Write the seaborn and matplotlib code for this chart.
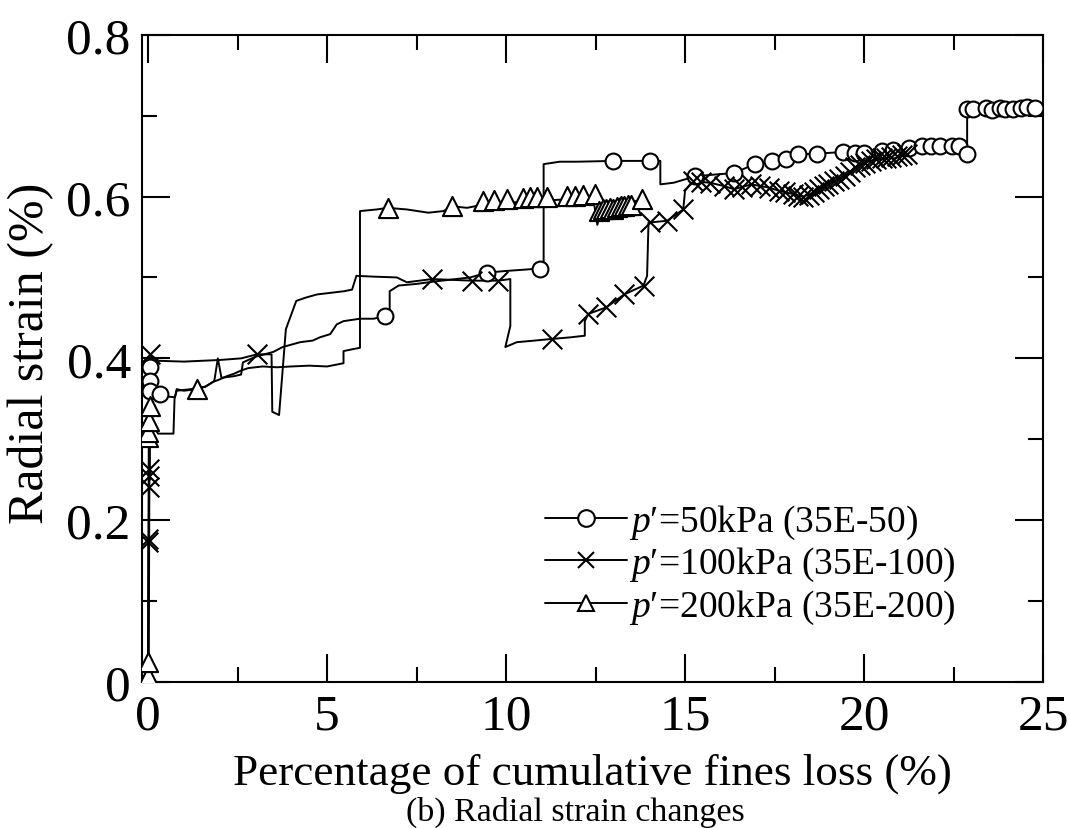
import numpy as np
import pandas as pd
import matplotlib
matplotlib.use("Agg")
import matplotlib.pyplot as plt
from matplotlib.lines import Line2D
from matplotlib.ticker import MultipleLocator, FixedLocator, FixedFormatter
import seaborn as sns

# ---------------- data ----------------
# p'=50kPa (35E-50) : circles
c_line_x = [0.0, 0.02, 0.04, 0.05, 0.08, 0.15, 0.29, 0.5, 0.75, 0.8, 1.2, 1.6, 1.85, 1.95, 2.05, 2.4, 2.6, 2.65,
            3.0, 3.5, 3.76, 4.25, 4.6, 4.8, 5.09, 5.27, 5.46, 5.92, 6.3, 6.62, 6.75, 6.75, 7.0, 7.5, 8.0, 9.0,
            9.47, 10.0, 10.94, 11.05, 11.05, 11.5, 12.0, 13.0, 14.03, 14.31, 14.31, 14.68, 15.29, 15.8, 16.37,
            16.95, 17.44, 17.82, 18.16, 18.69, 19.42, 19.75, 20.0, 20.5, 20.8, 21.25, 21.63, 21.88, 22.12, 22.46,
            22.65, 22.88, 22.88, 23.04, 23.42, 23.57, 23.81, 23.95, 24.15, 24.39, 24.54, 24.78]
c_line_y = [0.0, 0.30, 0.385, 0.39, 0.375, 0.36, 0.354, 0.353, 0.352, 0.36, 0.362, 0.365, 0.372, 0.40, 0.376,
            0.378, 0.38, 0.395, 0.402, 0.408, 0.414, 0.42, 0.422, 0.426, 0.43, 0.442, 0.446, 0.449, 0.449, 0.452,
            0.46, 0.483, 0.49, 0.492, 0.495, 0.50, 0.506, 0.508, 0.511, 0.511, 0.64, 0.643, 0.643, 0.644, 0.644,
            0.644, 0.615, 0.617, 0.625, 0.627, 0.629, 0.64, 0.644, 0.646, 0.652, 0.653, 0.655, 0.654, 0.654,
            0.656, 0.657, 0.66, 0.662, 0.662, 0.663, 0.663, 0.663, 0.652, 0.708, 0.708, 0.709, 0.707, 0.709,
            0.708, 0.708, 0.709, 0.71, 0.709]
c_mark_x = [0.06, 0.06, 0.06, 0.32, 6.62, 9.47, 10.94, 13.0, 14.03, 15.29, 16.37, 16.95, 17.44, 17.82, 18.16,
            18.69, 19.42, 19.75, 20.0, 20.5, 20.8, 21.25, 21.63, 21.88, 22.12, 22.46, 22.65, 22.88, 22.89, 23.04,
            23.42, 23.57, 23.81, 23.95, 24.15, 24.39, 24.54, 24.78]
c_mark_y = [0.389, 0.372, 0.36, 0.356, 0.452, 0.506, 0.511, 0.644, 0.644, 0.625, 0.629, 0.64, 0.644, 0.646,
            0.652, 0.653, 0.655, 0.654, 0.654, 0.656, 0.657, 0.66, 0.662, 0.662, 0.663, 0.663, 0.663, 0.652,
            0.708, 0.708, 0.709, 0.707, 0.709, 0.708, 0.708, 0.709, 0.71, 0.709]

# p'=100kPa (35E-100) : crosses
x_line_x = [0.0, 0.01, 0.02, 0.03, 0.03, 0.05, 0.05, 0.3, 1.0, 2.0, 2.6, 3.04, 3.45, 3.47, 3.66, 3.85, 4.14,
            4.4, 4.72, 5.48, 5.7, 5.82, 6.3, 6.95, 7.23, 7.93, 8.5, 9.05, 9.78, 10.12, 10.12, 9.98, 10.3, 10.8,
            11.28, 11.8, 12.2, 12.2, 12.3, 12.8, 13.3, 13.84, 13.94, 13.98, 14.03, 14.5, 14.95, 15.0, 15.21,
            15.7, 16.08, 16.37, 16.85, 17.34, 17.63, 18.02, 18.3, 18.6, 18.88, 19.17, 19.47, 19.75, 20.04,
            20.33, 20.62, 20.91, 21.2]
x_line_y = [0.0, 0.17, 0.18, 0.24, 0.26, 0.25, 0.405, 0.397, 0.396, 0.398, 0.40, 0.405, 0.405, 0.334, 0.33,
            0.436, 0.471, 0.475, 0.479, 0.483, 0.485, 0.502, 0.501, 0.50, 0.494, 0.498, 0.497, 0.496, 0.496,
            0.498, 0.44, 0.414, 0.42, 0.422, 0.424, 0.426, 0.428, 0.446, 0.455, 0.463, 0.479, 0.49, 0.502, 0.568,
            0.568, 0.57, 0.584, 0.607, 0.619, 0.617, 0.613, 0.609, 0.615, 0.611, 0.607, 0.603, 0.60, 0.605,
            0.613, 0.619, 0.625, 0.636, 0.642, 0.646, 0.648, 0.65, 0.652]
x_mark_x = [0.0, 0.01, 0.03, 0.03, 0.02, 0.05, 3.04, 7.93, 9.05, 9.78, 11.28, 12.3, 12.8, 13.3, 13.84, 14.03,
            14.5, 14.95, 15.21, 15.45, 15.7, 16.08, 16.37, 16.6, 16.85, 17.1, 17.34, 17.63, 17.8, 18.02, 18.15,
            18.3, 18.45, 18.6, 18.75, 18.88, 19.0, 19.17, 19.3, 19.47, 19.6, 19.75, 19.9, 20.04, 20.2, 20.33,
            20.5, 20.62, 20.75, 20.91, 21.05, 21.2]
x_mark_y = [0.173, 0.177, 0.241, 0.255, 0.263, 0.405, 0.405, 0.498, 0.496, 0.496, 0.424, 0.455, 0.463, 0.479,
            0.49, 0.568, 0.57, 0.584, 0.619, 0.618, 0.617, 0.613, 0.609, 0.612, 0.615, 0.613, 0.611, 0.607,
            0.605, 0.603, 0.601, 0.60, 0.602, 0.605, 0.609, 0.613, 0.616, 0.619, 0.622, 0.625, 0.63, 0.636,
            0.639, 0.642, 0.644, 0.646, 0.647, 0.648, 0.649, 0.65, 0.651, 0.652]

# p'=200kPa (35E-200) : triangles
t_line_x = [0.0, 0.0, 0.02, 0.04, 0.05, 0.10, 0.28, 0.71, 0.74, 0.80, 1.0, 1.36, 1.6, 1.82, 2.0, 2.2, 2.4, 2.6,
            2.8, 3.2, 3.6, 4.0, 4.5, 5.0, 5.46, 5.46, 5.79, 5.92, 5.92, 6.39, 6.69, 7.23, 7.83, 8.25, 8.49, 8.91,
            9.37, 9.65, 10.03, 10.5, 11.0, 11.5, 12.0, 12.45, 12.55, 12.7, 12.6, 12.9, 12.7, 13.2, 12.9, 13.5,
            13.2, 13.8, 14.0]
t_line_y = [0.0, 0.007, 0.025, 0.30, 0.34, 0.32, 0.307, 0.307, 0.35, 0.362, 0.360, 0.362, 0.365, 0.371, 0.374,
            0.378, 0.381, 0.385, 0.388, 0.39, 0.389, 0.39, 0.391, 0.390, 0.394, 0.409, 0.412, 0.413, 0.582,
            0.584, 0.586, 0.584, 0.580, 0.582, 0.588, 0.586, 0.59, 0.592, 0.592, 0.594, 0.595, 0.596, 0.597,
            0.594, 0.565, 0.59, 0.578, 0.595, 0.583, 0.598, 0.586, 0.598, 0.588, 0.597, 0.592]
t_mark_x = [0.0, 0.0, 0.0, 0.0, 0.02, 0.05, 1.36, 6.69, 8.49, 9.37, 9.65, 10.03, 10.48, 10.68, 10.87, 11.15,
            11.71, 11.93, 12.16, 12.49, 12.6, 12.7, 12.8, 12.9, 13.0, 13.1, 13.2, 13.3, 13.4, 13.5, 13.8]
t_mark_y = [0.007, 0.025, 0.303, 0.309, 0.323, 0.341, 0.362, 0.586, 0.588, 0.594, 0.596, 0.597, 0.598, 0.599,
            0.599, 0.6, 0.601, 0.601, 0.602, 0.603, 0.582, 0.584, 0.585, 0.586, 0.585, 0.587, 0.588, 0.588,
            0.589, 0.59, 0.597]

labels = ["=50kPa (35E-50)", "=100kPa (35E-100)", "=200kPa (35E-200)"]
x_ticks = [0, 5, 10, 15, 20, 25]
x_ticklabels = ["0", "5", "10", "15", "20", "25"]
y_ticks = [0.0, 0.2, 0.4, 0.6, 0.8]
y_ticklabels = ["0", "0.2", "0.4", "0.6", "0.8"]
xlabel = "Percentage of cumulative fines loss (%)"
ylabel = "Radial strain (%)"
caption = "(b) Radial strain changes"

# ---------------- style ----------------
sns.set_theme(style="ticks")
plt.rcParams["font.family"] = ["Liberation Serif", "DejaVu Serif"]
plt.rcParams["mathtext.fontset"] = "custom"
plt.rcParams["mathtext.rm"] = "Liberation Serif"
plt.rcParams["mathtext.it"] = "Liberation Serif:italic"
plt.rcParams["axes.linewidth"] = 1.5
for key in ["text.color", "axes.labelcolor", "xtick.color", "ytick.color", "axes.edgecolor"]:
    plt.rcParams[key] = "black"

fig = plt.figure(figsize=(10.69, 8.29), dpi=100)
ax = fig.add_axes([0.1328, 0.176, 0.8429, 0.781])

lw = 1.4
series = [
    (c_line_x, c_line_y, c_mark_x, c_mark_y, "o", 130),
    (x_line_x, x_line_y, x_mark_x, x_mark_y, "x", 200),
    (t_line_x, t_line_y, t_mark_x, t_mark_y, "^", 190),
]
for lx, ly, mx, my, mk, s in series:
    sns.lineplot(x=lx, y=ly, sort=False, estimator=None, color="black", lw=lw, ax=ax, zorder=2)
for lx, ly, mx, my, mk, s in series:
    if mk == "x":
        sns.scatterplot(x=mx, y=my, marker=mk, s=s, color="black", linewidth=1.5, ax=ax, zorder=3)
    else:
        sns.scatterplot(x=mx, y=my, marker=mk, s=s, facecolor="white", edgecolor="black",
                        linewidth=1.5, ax=ax, zorder=3)

ax.set_xlim(-0.17, 25)
ax.set_ylim(0, 0.8)
ax.xaxis.set_major_locator(FixedLocator(x_ticks))
ax.xaxis.set_major_formatter(FixedFormatter(x_ticklabels))
ax.yaxis.set_major_locator(FixedLocator(y_ticks))
ax.yaxis.set_major_formatter(FixedFormatter(y_ticklabels))
ax.xaxis.set_minor_locator(MultipleLocator(2.5))
ax.yaxis.set_minor_locator(MultipleLocator(0.1))
ax.tick_params(which="both", direction="in", top=True, right=True, width=1.5, colors="black")
ax.tick_params(which="major", length=20, labelsize=37, pad=8)
ax.tick_params(which="minor", length=11)
for sp in ax.spines.values():
    sp.set_visible(True)
    sp.set_color("black")
    sp.set_linewidth(1.5)

ax.set_xlabel(xlabel, fontsize=32.5)
ax.xaxis.set_label_coords(0.5, -0.108)
ax.set_ylabel(ylabel, fontsize=36)
ax.yaxis.set_label_coords(-0.097, 0.51)
fig.text(0.538, 0.0205, caption, fontsize=24.5, ha="center", va="center")

handles = []
for (lx, ly, mx, my, mk, s) in series:
    handles.append(Line2D([], [], color="black", lw=lw, marker=mk, markersize=12,
                          markerfacecolor="white", markeredgecolor="black", markeredgewidth=1.5))
leg_labels = [r"$p$′" + t for t in labels]
ax.legend(handles, leg_labels, loc="upper left", bbox_to_anchor=(0.447, 0.277), frameon=False,
          fontsize=27, handlelength=2.2, handletextpad=0.05, borderpad=0, borderaxespad=0,
          labelspacing=0.11)

fig.savefig("out.png", dpi=100)
